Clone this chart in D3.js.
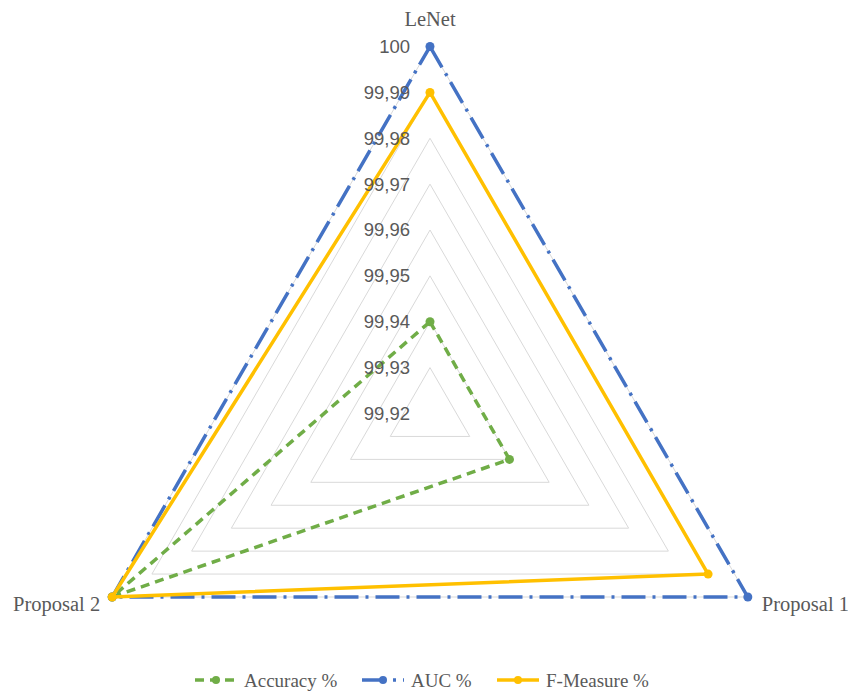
<!DOCTYPE html>
<html>
<head>
<meta charset="utf-8">
<script src="https://cdn.jsdelivr.net/npm/d3@7"></script>
<style>
  body { margin: 0; background: #fff; }
  svg { display: block; }
</style>
</head>
<body>
<svg id="chart" width="848" height="693"></svg>
<script>
// Radar axes (clockwise from the top)
const categories = ["LeNet", "Proposal 1", "Proposal 2"];
// Series values, one per axis
const accuracy = [99.94, 99.94, 100];
const auc = [100, 100, 100];
const fMeasure = [99.99, 99.99, 100];
// Radial tick values and their printed labels
const tickValues = [99.92, 99.93, 99.94, 99.95, 99.96, 99.97, 99.98, 99.99, 100];
const tickLabels = ["99,92", "99,93", "99,94", "99,95", "99,96", "99,97", "99,98", "99,99", "100"];

const series = [
  { name: "Accuracy %", values: accuracy, color: "#70AD47", dash: "9,6" },
  { name: "AUC %", values: auc, color: "#4472C4", dash: "24,7,3,7" },
  { name: "F-Measure %", values: fMeasure, color: "#FFC000", dash: null }
];

const svg = d3.select("#chart");
const cx = 430, cy = 413.5, R = 367;

const r = d3.scaleLinear().domain([99.92, 100]).range([0, R]);
const angle = d3.scalePoint().domain(categories).range([0, 2 * Math.PI * (categories.length - 1) / categories.length]);

const pt = (cat, v) => {
  const a = angle(cat);
  return [cx + r(v) * Math.sin(a), cy - r(v) * Math.cos(a)];
};

// Grid rings
const g = svg.append("g");
tickValues.slice(1).forEach(v => {
  g.append("path")
    .attr("d", d3.line()(categories.map(c => pt(c, v))) + "Z")
    .attr("fill", "none")
    .attr("stroke", "#d9d9d9")
    .attr("stroke-width", 1);
});

// Series
series.forEach(s => {
  const pts = categories.map((c, i) => pt(c, s.values[i]));
  svg.append("path")
    .attr("d", d3.line()(pts) + "Z")
    .attr("fill", "none")
    .attr("stroke", s.color)
    .attr("stroke-width", 3.5)
    .attr("stroke-dasharray", s.dash)
    .attr("stroke-linejoin", "round");
  svg.selectAll(null).data(pts).enter().append("circle")
    .attr("cx", d => d[0]).attr("cy", d => d[1]).attr("r", 4.5)
    .attr("fill", s.color);
});

// Radial tick labels
svg.append("g").selectAll("text").data(tickValues).enter().append("text")
  .attr("x", cx - 20)
  .attr("y", d => cy - r(d))
  .attr("dy", "0.35em")
  .attr("text-anchor", "end")
  .attr("font-family", "'Liberation Sans', Arial, sans-serif")
  .attr("font-size", 18.5)
  .attr("fill", "#595959")
  .text((d, i) => tickLabels[i]);

// Category labels
const catFont = "'Liberation Serif', 'Times New Roman', serif";
const catPos = [
  { x: cx, y: cy - R - 28, anchor: "middle" },
  { x: pt(categories[1], 100)[0] + 14, y: pt(categories[1], 100)[1] + 7, anchor: "start" },
  { x: pt(categories[2], 100)[0] - 12, y: pt(categories[2], 100)[1] + 7, anchor: "end" }
];
categories.forEach((c, i) => {
  svg.append("text")
    .attr("x", catPos[i].x).attr("y", catPos[i].y)
    .attr("dy", "0.35em")
    .attr("text-anchor", catPos[i].anchor)
    .attr("font-family", catFont)
    .attr("font-size", 20.5)
    .attr("fill", "#595959")
    .text(c);
});

// Legend
const legendX = [195, 362, 497];
const legendY = 680;
series.forEach((s, i) => {
  const lg = svg.append("g").attr("transform", `translate(${legendX[i]},${legendY})`);
  lg.append("line")
    .attr("x1", 0).attr("x2", 42).attr("y1", 0).attr("y2", 0)
    .attr("stroke", s.color).attr("stroke-width", 3.5)
    .attr("stroke-dasharray", s.dash);
  lg.append("circle").attr("cx", 21).attr("cy", 0).attr("r", 4).attr("fill", s.color);
  lg.append("text")
    .attr("x", 49).attr("y", 0).attr("dy", "0.35em")
    .attr("font-family", catFont)
    .attr("font-size", 19)
    .attr("fill", "#595959")
    .text(s.name);
});
</script>
</body>
</html>
